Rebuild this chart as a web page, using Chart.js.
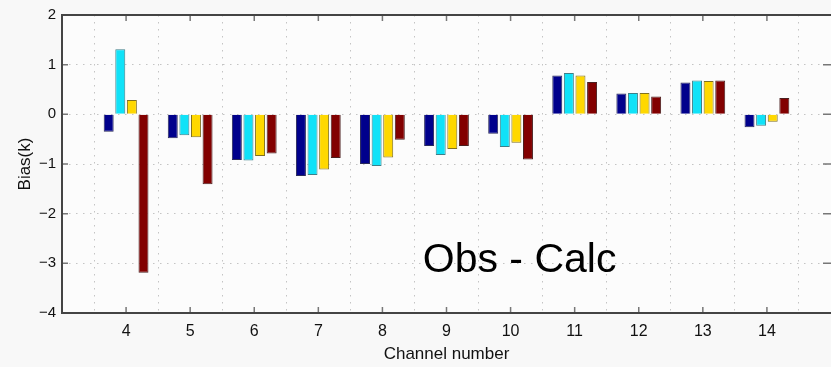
<!DOCTYPE html>
<html>
<head>
<meta charset="utf-8">
<script src="https://cdn.jsdelivr.net/npm/chart.js@4"></script>
<style>
  html, body { margin: 0; padding: 0; background: #f8f8f8; }
  #wrap { width: 831px; height: 367px; }
</style>
</head>
<body>
<div id="wrap"><canvas id="biasChart"></canvas></div>
<script>
// Channel axis runs 3..15, bars only at 4..14
const channels = ['3', '4', '5', '6', '7', '8', '9', '10', '11', '12', '13', '14', '15'];
const seriesBlue   = [null, -0.35, -0.48, -0.92, -1.24, -1.00, -0.64, -0.39, 0.78, 0.42, 0.64, -0.26, null];
const seriesCyan   = [null,  1.31, -0.42, -0.93, -1.22, -1.04, -0.82, -0.66, 0.83, 0.43, 0.68, -0.23, null];
const seriesYellow = [null,  0.29, -0.46, -0.84, -1.11, -0.87, -0.70, -0.57, 0.78, 0.43, 0.67, -0.15, null];
const seriesRed    = [null, -3.19, -1.41, -0.79, -0.88, -0.51, -0.64, -0.91, 0.65, 0.36, 0.68,  0.33, null];
const yTicks = [-4, -3, -2, -1, 0, 1, 2];
const noteText = 'Obs - Calc';

const FONT = '"Liberation Sans", Arial, Helvetica, sans-serif';

// background, box, inward ticks, and the annotation
const matlabFrame = {
    id: 'matlabFrame',
    beforeDraw(chart) {
        const { ctx, chartArea: a } = chart;
        ctx.save();
        ctx.fillStyle = '#f8f8f8';
        ctx.fillRect(0, 0, chart.width, chart.height);
        ctx.fillStyle = '#fcfcfc';
        ctx.fillRect(a.left, a.top, a.right - a.left, a.bottom - a.top);
        ctx.restore();
    },
    afterDraw(chart) {
        const { ctx, chartArea: a, scales } = chart;
        ctx.save();
        // inward tick marks
        ctx.strokeStyle = '#777';
        ctx.lineWidth = 1.5;
        ctx.beginPath();
        yTicks.forEach(v => {
            const y = scales.y.getPixelForValue(v);
            ctx.moveTo(a.left, y); ctx.lineTo(a.left + 6, y);
            ctx.moveTo(a.right, y); ctx.lineTo(a.right - 8, y);
        });
        for (let i = 1; i < channels.length - 1; i++) {
            const x = scales.x.getPixelForValue(i);
            ctx.moveTo(x, a.bottom); ctx.lineTo(x, a.bottom - 6);
            ctx.moveTo(x, a.top); ctx.lineTo(x, a.top + 6);
        }
        ctx.stroke();
        // box
        ctx.strokeStyle = '#444';
        ctx.lineWidth = 2;
        ctx.beginPath();
        ctx.moveTo(a.right, a.top);
        ctx.lineTo(a.left, a.top);
        ctx.lineTo(a.left, a.bottom);
        ctx.lineTo(a.right, a.bottom);
        ctx.stroke();
        // annotation
        ctx.fillStyle = '#000';
        ctx.font = '41px ' + FONT;
        ctx.textBaseline = 'alphabetic';
        ctx.textAlign = 'left';
        ctx.fillText(noteText, scales.x.getPixelForValue(5.63), scales.y.getPixelForValue(-3.18));
        ctx.restore();
    }
};

function barSet(label, data, color, edge) {
    return {
        label: label,
        data: data,
        backgroundColor: color,
        borderColor: edge,
        borderWidth: 1,
        categoryPercentage: 0.724,
        barPercentage: 0.86
    };
}

const ctx = document.getElementById('biasChart').getContext('2d');
const chart = new Chart(ctx, {
    type: 'bar',
    data: {
        labels: channels,
        datasets: [
            barSet('s1', seriesBlue, '#00008c', '#2a2a5a'),
            barSet('s2', seriesCyan, '#10e2f8', '#3d7f88'),
            barSet('s3', seriesYellow, '#ffd800', '#807020'),
            barSet('s4', seriesRed, '#820000', '#4a2020')
        ]
    },
    options: {
        responsive: true,
        maintainAspectRatio: false,
        animation: false,
        layout: { padding: { top: 15, right: 0, left: 0, bottom: 0 } },
        plugins: {
            legend: { display: false },
            tooltip: { enabled: false }
        },
        scales: {
            x: {
                offset: false,
                grid: { color: '#c4c4c4', drawTicks: false },
                border: { display: false, dash: [1.5, 5.5] },
                ticks: {
                    color: '#111',
                    font: { family: FONT, size: 16 },
                    padding: 9,
                    maxRotation: 0,
                    autoSkip: false,
                    callback: function (v, i) {
                        return (i === 0 || i === channels.length - 1) ? '' : channels[i];
                    }
                },
                title: {
                    display: true,
                    text: 'Channel number',
                    color: '#111',
                    font: { family: FONT, size: 17 },
                    padding: { top: 0, bottom: 2 }
                },
                afterFit: s => { s.height = 54; s.paddingLeft = 0; s.paddingRight = 0; }
            },
            y: {
                min: -4,
                max: 2,
                grid: { color: '#c4c4c4', drawTicks: false },
                border: { display: false, dash: [1.5, 5.5] },
                ticks: {
                    stepSize: 1,
                    color: '#111',
                    font: { family: FONT, size: 15 },
                    padding: 6,
                    callback: v => String(v).replace('-', '\u2212')
                },
                title: {
                    display: true,
                    text: 'Bias(k)',
                    color: '#111',
                    font: { family: FONT, size: 17 },
                    padding: { top: 15, bottom: 0 }
                },
                afterFit: s => { s.width = 62; }
            }
        }
    },
    plugins: [matlabFrame]
});
</script>
</body>
</html>
